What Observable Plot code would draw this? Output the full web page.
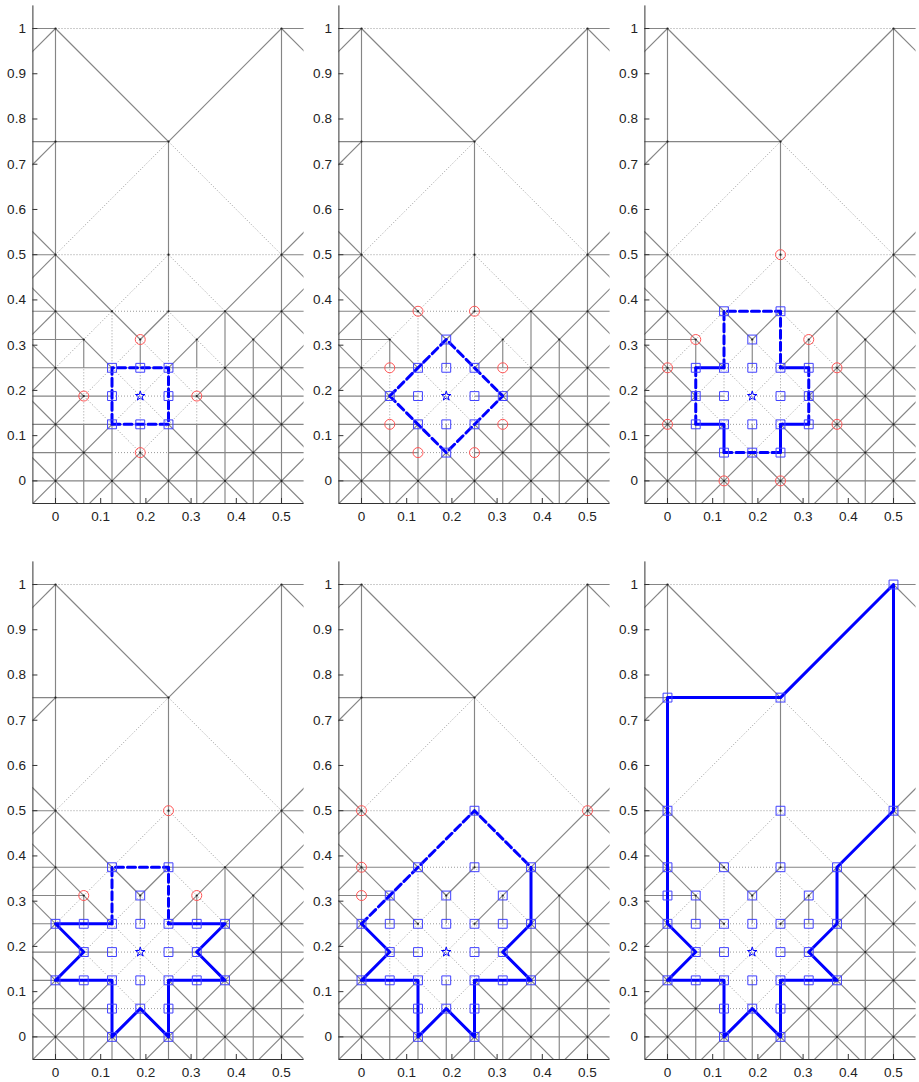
<!DOCTYPE html>
<html><head><meta charset="utf-8">
<script src="https://cdn.jsdelivr.net/npm/d3@7"></script>
<script src="https://cdn.jsdelivr.net/npm/@observablehq/plot@0.6"></script>
<style>
body{margin:0;background:#fff;}
#wrap{position:relative;width:919px;height:1082px;overflow:hidden;}
.panel{position:absolute;}
</style></head><body><div id="wrap"></div>
<script>
// grid unit (mesh coordinates below are in multiples of 1/16)
const U = 0.0625;
const xTicks = [0, 0.1, 0.2, 0.3, 0.4, 0.5];
const xTickLabels = ["0", "0.1", "0.2", "0.3", "0.4", "0.5"];
const yTicks = [0, 0.1, 0.2, 0.3, 0.4, 0.5, 0.6, 0.7, 0.8, 0.9, 1];
const yTickLabels = ["0", "0.1", "0.2", "0.3", "0.4", "0.5", "0.6", "0.7", "0.8", "0.9", "1"];

// mesh edges [x1,y1,x2,y2] in grid units
const solidEdges = [
  // verticals
  [0,-1,0,16],[1,-1,1,2],[1,4,1,5],[2,-1,2,2],[3,-1,3,2],[3,4,3,5],
  [4,-1,4,2],[4,6,4,12],[5,-1,5,2],[5,4,5,5],[6,-1,6,6],[7,-1,7,5],[8,-1,8,16],
  // horizontals
  [-1,0,9,0],[-1,1,2,1],[4,1,9,1],[-1,2,2,2],[4,2,9,2],[-1,3,2,3],[4,3,9,3],
  [-1,4,2,4],[4,4,9,4],[-1,5,1,5],[-1,6,2,6],[4,6,9,6],[-1,8,0,8],[8,8,9,8],
  [-1,12,4,12],[-1,16,0,16],[8,16,9,16],
  // slope -1
  [-1,1,1,-1],[-1,3,3,-1],[-1,5,1,3],[3,1,5,-1],[-1,7,2,4],[4,2,7,-1],
  [-1,9,3,5],[5,3,9,-1],[6,4,9,1],[6,6,9,3],[8,6,9,5],[0,16,4,12],[8,8,9,7],[8,16,9,15],
  // slope +1
  [-1,15,0,16],[-1,11,0,12],[-1,7,0,8],[4,12,8,16],[-1,5,0,6],[-1,3,0,4],
  [-1,1,1,3],[3,5,4,6],[-1,-1,2,2],[4,4,9,9],[1,-1,3,1],[5,3,9,7],
  [3,-1,9,5],[5,-1,9,3],[7,-1,9,1]
];
const dottedEdges = [
  [1,2,1,4],[2,2,2,6],[3,2,3,4],[4,2,4,6],[5,2,5,4],
  [2,1,4,1],[2,2,4,2],[2,3,4,3],[2,4,4,4],[2,6,4,6],[0,8,8,8],[0,16,8,16],
  [1,3,3,1],[2,4,4,2],[3,5,5,3],[4,6,6,4],[4,8,6,6],[4,12,8,8],
  [1,3,3,5],[2,2,4,4],[3,1,5,3],[0,4,4,8],[0,8,4,12]
];
const meshVertices = [
  [0,0],[2,0],[4,0],[6,0],[8,0],[1,1],[3,1],[5,1],[7,1],[0,2],[2,2],[4,2],[6,2],[8,2],
  [1,3],[5,3],[7,3],[0,4],[2,4],[4,4],[6,4],[8,4],[7,5],[1,5],[3,5],[5,5],
  [0,6],[2,6],[4,6],[6,6],[8,6],[0,8],[4,8],[8,8],[0,12],[4,12],[0,16],[8,16]
];
const starPoint = [[3,3]];

// per-panel overlays (grid units)
const sq1 = [[2,2],[3,2],[4,2],[2,3],[4,3],[2,4],[3,4],[4,4]];
const sq2 = [[1,3],[3,5],[5,3],[3,1],[2,2],[3,2],[4,2],[2,3],[4,3],[2,4],[3,4],[4,4]];
const sq3 = [[2,6],[4,6],[3,5],[1,4],[2,4],[3,4],[4,4],[5,4],[1,3],[2,3],[4,3],[5,3],
             [1,2],[2,2],[3,2],[4,2],[5,2],[2,1],[3,1],[4,1]];
const sq4 = sq3.concat([[0,4],[6,4],[0,2],[6,2],[2,0],[4,0]]);
const sq5 = sq4.concat([[4,8],[6,6],[1,5],[5,5]]);
const sq6 = sq5.concat([[8,16],[0,12],[4,12],[0,8],[8,8],[0,6],[0,5]]);

const rc1 = [[1,3],[5,3],[3,5],[3,1]];
const rc2 = [[2,6],[4,6],[1,4],[5,4],[1,2],[5,2],[2,1],[4,1]];
const rc3 = [[4,8],[1,5],[5,5],[0,4],[6,4],[0,2],[6,2],[2,0],[4,0]];
const rc4 = [[4,8],[1,5],[5,5]];
const rc5 = [[0,8],[0,6],[0,5],[8,8]];
const rc6 = [];

const dash1 = [[[2,2],[4,2],[4,4],[2,4],[2,2]]];
const solid1 = [];
const dash2 = [[[1,3],[3,5],[5,3],[3,1],[1,3]]];
const solid2 = [];
const dash3 = [[[2,4],[2,6],[4,6],[4,4]],[[1,4],[1,2]],[[5,4],[5,2]],[[2,1],[4,1]]];
const solid3 = [[[2,4],[1,4]],[[4,4],[5,4]],[[1,2],[2,2],[2,1]],[[5,2],[4,2],[4,1]]];
const dash4 = [[[2,4],[2,6],[4,6],[4,4]]];
const solid4 = [[[2,4],[0,4],[1,3],[0,2],[2,2],[2,0],[3,1],[4,0],[4,2],[6,2],[5,3],[6,4],[4,4]]];
const dash5 = [[[0,4],[4,8],[6,6]]];
const solid5 = [[[6,6],[6,4],[5,3],[6,2],[4,2],[4,0],[3,1],[2,0],[2,2],[0,2],[1,3],[0,4]]];
const dash6 = [];
const solid6 = [[[0,4],[0,12],[4,12],[8,16],[8,8],[6,6],[6,4],[5,3],[6,2],[4,2],[4,0],[3,1],[2,0],[2,2],[0,2],[1,3],[0,4]]];

const panels = [
  {left:0,   top:0,     sq:sq1, rc:rc1, dash:dash1, solid:solid1},
  {left:306, top:0,     sq:sq2, rc:rc2, dash:dash2, solid:solid2},
  {left:612, top:0,     sq:sq3, rc:rc3, dash:dash3, solid:solid3},
  {left:0,   top:555.5, sq:sq4, rc:rc4, dash:dash4, solid:solid4},
  {left:306, top:555.5, sq:sq5, rc:rc5, dash:dash5, solid:solid5},
  {left:612, top:555.5, sq:sq6, rc:rc6, dash:dash6, solid:solid6}
];

const seg = e => ({x1: e[0]*U, y1: e[1]*U, x2: e[2]*U, y2: e[3]*U});
const pt = p => ({x: p[0]*U, y: p[1]*U});
const pathPts = paths => paths.flatMap((p, k) => p.map(q => ({x: q[0]*U, y: q[1]*U, k})));
const TL = 5/452;

function makePanel(cfg) {
  return Plot.plot({
    width: 306, height: 532,
    marginLeft: 32.4, marginRight: 2.4, marginTop: 5.4, marginBottom: 29,
    x: {domain: [-0.05, 0.55], axis: null},
    y: {domain: [-0.05, 1.05], axis: null},
    style: {fontFamily: "'Liberation Sans', Arial, sans-serif", fontSize: "13.5px", color: "#222", background: "transparent", overflow: "visible"},
    marks: [
      Plot.link(solidEdges.map(seg), {x1: "x1", y1: "y1", x2: "x2", y2: "y2", stroke: "#858585", strokeWidth: 1.15, clip: true}),
      Plot.link(dottedEdges.map(seg), {x1: "x1", y1: "y1", x2: "x2", y2: "y2", stroke: "#999", strokeWidth: 1, strokeDasharray: "1,2", clip: true}),
      Plot.dot(meshVertices.map(pt), {x: "x", y: "y", r: 1.1, fill: "#222", stroke: "none"}),
      Plot.line(pathPts(cfg.solid), {x: "x", y: "y", z: "k", stroke: "#0000ff", strokeWidth: 3}),
      Plot.line(pathPts(cfg.dash), {x: "x", y: "y", z: "k", stroke: "#0000ff", strokeWidth: 3, strokeDasharray: "8,4"}),
      Plot.dot(cfg.sq.map(pt), {x: "x", y: "y", symbol: "square", r: 5, stroke: "#4040ff", strokeWidth: 1, fill: "none"}),
      Plot.dot(cfg.rc.map(pt), {x: "x", y: "y", r: 5, stroke: "#ff5555", strokeWidth: 1, fill: "none"}),
      Plot.dot(starPoint.map(pt), {x: "x", y: "y", symbol: "star", r: 3, stroke: "#0000ff", strokeWidth: 1, fill: "none"}),
      Plot.ruleX([-0.05], {y1: -0.05, y2: 1.05, stroke: "#333"}),
      Plot.ruleY([-0.05], {x1: -0.05, x2: 0.55, stroke: "#333"}),
      Plot.ruleX(xTicks, {x: d => d, y1: -0.05, y2: -0.05 + TL, stroke: "#333"}),
      Plot.ruleY(yTicks, {y: d => d, x1: -0.05, x2: -0.05 + TL, stroke: "#333"}),
      Plot.axisX({ticks: xTicks, tickSize: 0, tickPadding: 8, tickFormat: d => xTickLabels[xTicks.indexOf(d)], fill: "#222"}),
      Plot.axisY({ticks: yTicks, tickSize: 0, tickPadding: 7, tickFormat: d => yTickLabels[yTicks.indexOf(d)], fill: "#222"})
    ]
  });
}

const wrap = document.getElementById("wrap");
for (const cfg of panels) {
  const div = document.createElement("div");
  div.className = "panel";
  div.style.left = cfg.left + "px";
  div.style.top = cfg.top + "px";
  div.appendChild(makePanel(cfg));
  wrap.appendChild(div);
}
</script>
</body></html>
